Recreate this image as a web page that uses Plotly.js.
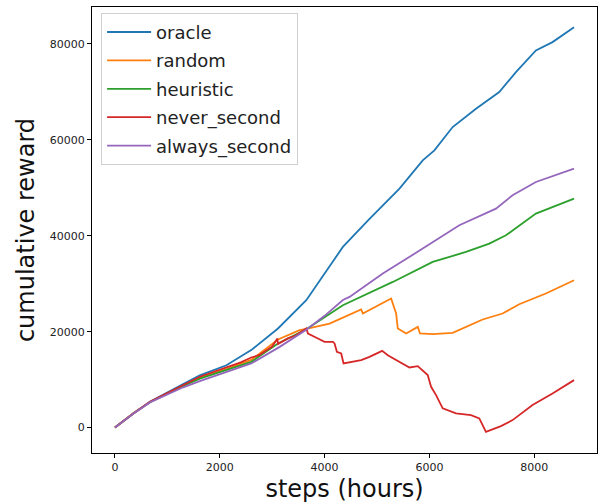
<!DOCTYPE html>
<html>
<head>
<meta charset="utf-8">
<script src="https://cdn.plot.ly/plotly-3.0.1.min.js"></script>
<style>html,body{margin:0;padding:0;background:#fff;}#chart{width:600px;height:503px;}</style>
</head>
<body>
<div id="chart"></div>
<script>
// Series names
const seriesNames = ["oracle", "random", "heuristic", "never_second", "always_second"];

// oracle
const oracleSteps = [0, 349, 667, 984, 1302, 1619, 2127, 2600, 3111, 3651, 4000, 4349, 4857, 5429, 5873, 6095, 6444, 6889, 7333, 7651, 8032, 8349, 8760];
const oracleReward = [0, 2950, 5375, 7300, 9100, 10900, 13000, 16150, 20660, 26560, 32200, 37670, 43500, 49830, 55730, 57800, 62670, 66500, 69960, 74130, 78650, 80380, 83500];

// random
const randomSteps = [0, 349, 667, 984, 1302, 1619, 2127, 2600, 3111, 3524, 3651, 4095, 4698, 4730, 5270, 5365, 5397, 5556, 5778, 5822, 6063, 6444, 7016, 7397, 7714, 8222, 8760];
const randomReward = [0, 2950, 5300, 7050, 8800, 10400, 12200, 14100, 18370, 20310, 20600, 21700, 24620, 23790, 26910, 23790, 20660, 19620, 21000, 19620, 19480, 19750, 22540, 23790, 25730, 27960, 30730];

// heuristic
const heuristicSteps = [0, 349, 667, 984, 1302, 1619, 2127, 2600, 3111, 3651, 4000, 4349, 5302, 6063, 6698, 7143, 7460, 8032, 8760];
const heuristicReward = [0, 2950, 5300, 7000, 8700, 10200, 11980, 13710, 17540, 20500, 23000, 25520, 30370, 34540, 36620, 38370, 40100, 44620, 47750];

// never_second
const neverSteps = [0, 349, 667, 984, 1302, 1619, 2127, 2400, 2600, 2750, 2900, 3000, 3100, 3111, 3300, 3450, 3651, 3683, 3873, 4000, 4159, 4190, 4235, 4317, 4362, 4540, 4698, 4857, 5098, 5206, 5429, 5619, 5778, 5968, 6032, 6127, 6254, 6508, 6794, 6952, 7079, 7365, 7587, 7968, 8349, 8760];
const neverReward = [0, 2950, 5375, 7150, 8900, 10600, 12540, 13600, 14620, 15100, 16200, 16900, 18580, 17400, 18600, 19200, 20660, 19620, 18580, 17880, 17880, 17540, 15790, 15450, 13370, 13710, 14060, 14750, 16000, 15100, 13710, 12540, 12810, 10940, 8500, 6770, 4000, 2960, 2600, 1910, -875, 312, 1560, 4690, 7120, 9900];

// always_second
const alwaysSteps = [0, 349, 667, 984, 1302, 1619, 2127, 2600, 3143, 3651, 4000, 4349, 4476, 5111, 5873, 6571, 7270, 7587, 8032, 8760];
const alwaysReward = [0, 2900, 5250, 6900, 8400, 9700, 11630, 13370, 16830, 20400, 23300, 26600, 27250, 32120, 37330, 42190, 45660, 48440, 51210, 54000];

const colors = ["#1f77b4", "#ff7f0e", "#2ca02c", "#d62728", "#9467bd"];
const xs = [oracleSteps, randomSteps, heuristicSteps, neverSteps, alwaysSteps];
const ys = [oracleReward, randomReward, heuristicReward, neverReward, alwaysReward];

const traces = seriesNames.map((n, i) => ({
  type: "scatter", mode: "lines", name: n, legendgroup: n,
  x: xs[i], y: ys[i],
  line: {color: colors[i], width: 1.8}
}));

const axisFont = {family: "DejaVu Sans", size: 11, color: "#222"};
const layout = {
  width: 600, height: 503,
  margin: {l: 92, r: 3, t: 7, b: 50},
  paper_bgcolor: "#fff", plot_bgcolor: "#fff",
  font: {family: "DejaVu Sans", color: "#222"},
  showlegend: true,
  legend: {
    x: 0.018, y: 0.987, xanchor: "left", yanchor: "top",
    font: {family: "DejaVu Sans", size: 18, color: "#222"},
    bgcolor: "rgba(255,255,255,0.8)", bordercolor: "#d0d0d0", borderwidth: 1,
    traceorder: "grouped", tracegroupgap: 2, itemwidth: 44
  },
  xaxis: {
    range: [-438, 9198], tickvals: [0, 2000, 4000, 6000, 8000], tickformat: "d",
    showgrid: false, zeroline: false, showline: true, mirror: true,
    linecolor: "#000", linewidth: 1, ticks: "outside", ticklen: 4, tickcolor: "#000",
    tickfont: axisFont,
    title: {text: "steps (hours)", font: {family: "DejaVu Sans", size: 24, color: "#111"}, standoff: 8}
  },
  yaxis: {
    range: [-5300, 87700], tickvals: [0, 20000, 40000, 60000, 80000], tickformat: "d",
    showgrid: false, zeroline: false, showline: true, mirror: true,
    linecolor: "#000", linewidth: 1, ticks: "outside", ticklen: 4, tickcolor: "#000",
    tickfont: axisFont,
    title: {text: "cumulative reward", font: {family: "DejaVu Sans", size: 24, color: "#111"}, standoff: 8}
  }
};

Plotly.newPlot("chart", traces, layout, {displayModeBar: false, staticPlot: true});
</script>
</body>
</html>
